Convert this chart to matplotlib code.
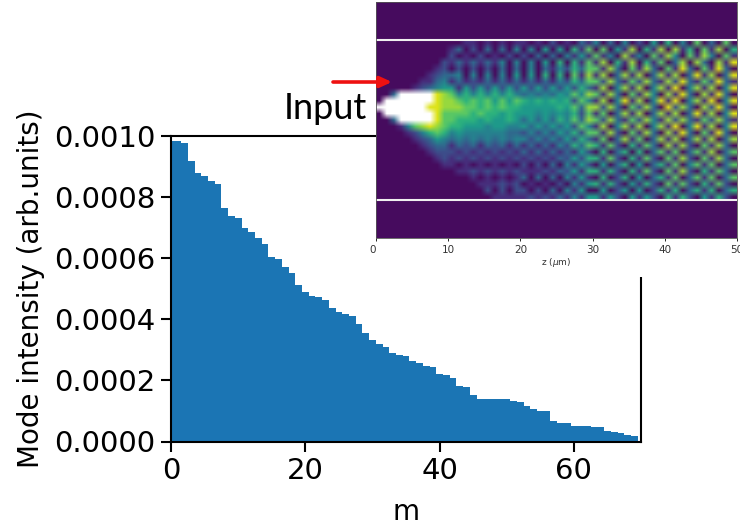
import numpy as np
import matplotlib
matplotlib.use('Agg')
import matplotlib.pyplot as plt
from matplotlib.patches import Rectangle

W, H = 740, 527

# mode intensities, m = 0..69
m = list(range(70))
intensity = [
    .000984, .000984, .000977, .000918, .000879, .000869, .000853, .000843, .000764, .000738,
    .000732, .000699, .000686, .000666, .000647, .000604, .000599, .000570, .000552, .000513,
    .000490, .000477, .000473, .000463, .000437, .000424, .000418, .000411, .000385, .000355,
    .000333, .000320, .000310, .000290, .000284, .000280, .000264, .000257, .000248, .000244,
    .000221, .000218, .000208, .000182, .000179, .000153, .000140, .000140, .000140, .000140,
    .000140, .000133, .000130, .000117, .000107, .000100, .000100, .000068, .000061, .000061,
    .000051, .000051, .000051, .000048, .000048, .000035, .000032, .000028, .000022, .000019,
]
x_ticks = [0, 20, 40, 60]
y_ticks = [0.0, 0.0002, 0.0004, 0.0006, 0.0008, 0.0010]
y_labels = ['0.0000', '0.0002', '0.0004', '0.0006', '0.0008', '0.0010']

# inset field map, estimated by eye: one char per cell, 0-9 = level, W = saturated
field_rows = [
    '0000000000 0011010101 1010201031 4030402050 6040703070',
    '0000000000 1302030304 0405050617 0705180618 0816071806',
    '0000000000 2010201020 2030304151 7140814071 8407184071',
    '0000000002 1313131404 0405060617 1806180617 0380830819',
    '0000000012 0202020303 0403142637 7183071830 7193071930',
    '0000000123 3404040405 0506060718 1803818038 1803918039',
    '0000001134 1312131313 1313142637 7283172831 8293172931',
    '0000012345 5152525252 5252525263 1804818048 1904818049',
    '003WWWWW98 7464646464 3434354748 7183071840 8193081930',
    '0WWWWWWW98 8767675757 6565656274 1804918049 1904819049',
    'WWWWWWW998 8877676766 5555565738 8283072830 9283082930',
    '0WWWWWWW97 7776766565 5545454627 1703818038 1803918049',
    '003WWWWW97 7666565565 3535364738 7283172841 8283172831',
    '0001478987 6655545544 5353535274 1804818048 1904918049',
    '0000124676 4544444433 2424253627 7182071830 8193071930',
    '0000012354 3434343434 4242425263 1703817038 1803818038',
    '0000001233 1323132313 1313142637 6172061730 8182071830',
    '0000000122 2121212121 3131313152 0603606037 1703718037',
    '0000000012 1212121212 1212132526 6172061720 7182071830',
    '0000000001 1010101010 2020304152 0503605036 1704717037',
    '0000000000 0112121212 1112132516 6162061720 7182061730',
    '0000000000 0001010101 3030304151 0602605036 1703717037',
    '0000000000 0000111212 0101020415 6162051620 7172061720',
    '0000000000 0000020202 2020304150 0502505026 1603616036',
    '0000000000 0000001111 1212131415 5152051520 6162051620',
]
z_ticks = [0, 10, 20, 30, 40, 50]


def box(left, top, right, bottom):
    # pixel box (from top left of the picture) to figure fractions
    return [left / W, 1 - bottom / H, (right - left) / W, (bottom - top) / H]


fig = plt.figure(figsize=(W / 100, H / 100), dpi=100)

# main histogram, one filled outline so no seams show between the bars
ax = fig.add_axes(box(171, 136, 641, 441.5))
edges = np.append(np.array(m) - 0.5, m[-1] + 0.5)
ax.stairs(intensity, edges, fill=True, color='#1b75b4', linewidth=0)
ax.set_xlim(0, 70)
ax.set_ylim(0, 0.001)
ax.set_xticks(x_ticks)
ax.set_yticks(y_ticks)
ax.set_yticklabels(y_labels)
ax.tick_params(labelsize=21, length=7, width=1.5, pad=4.5)
ax.set_xlabel('m', fontsize=20, labelpad=9)
ax.set_ylabel('Mode intensity (arb.units)', fontsize=20, labelpad=6)
for s in ax.spines.values():
    s.set_linewidth(1.5)

# white block the pasted picture sits on
bg = fig.add_axes([0, 0, 1, 1], zorder=2)
bg.set_xlim(0, W)
bg.set_ylim(H, 0)
bg.axis('off')
bg.add_patch(Rectangle((376, 0), W - 376, 277, color='white', lw=0))

# inset field map
cmap = plt.get_cmap('viridis').copy()
cmap.set_over('white')
field = np.array([[12 if c == 'W' else int(c) for c in r.replace(' ', '')] for r in field_rows], dtype=float)

ins = fig.add_axes(box(376, 2, 737, 238), zorder=3)
ins.set_facecolor(cmap(0.03))
ins.imshow(field, cmap=cmap, vmin=-0.3, vmax=9.5, extent=(0, 50, -1, 1), aspect='auto',
           interpolation='bilinear', interpolation_stage='rgba')
ins.axhline(1, color='#f0f0f0', lw=1.5)
ins.axhline(-1, color='#f0f0f0', lw=1.5)
ins.set_xlim(0, 50)
ins.set_ylim(-1.48, 1.48)
ins.set_yticks([])
ins.set_xticks(z_ticks)
ins.tick_params(labelsize=7.5, length=2.5, width=0.6, pad=2.5, labelcolor='#333333')
ins.get_xticklabels()[0].set_ha('right')
ins.set_xlabel(r'z ($\mu$m)', fontsize=6.5, labelpad=1, color='#333333')
for s in ins.spines.values():
    s.set_linewidth(0.6)
    s.set_color('#555555')

# annotation on top of everything
top = fig.add_axes([0, 0, 1, 1], zorder=4)
top.set_xlim(0, W)
top.set_ylim(H, 0)
top.axis('off')
top.text(325, 119, 'Input', fontsize=26, family='Lato', ha='center', va='baseline', color='black')
top.annotate('', xy=(392, 82), xytext=(333, 82),
             arrowprops=dict(arrowstyle='-|>,head_length=0.7,head_width=0.32', color='#ee1111', lw=2.6, shrinkA=0, shrinkB=0))

fig.savefig('out.png', dpi=100)
